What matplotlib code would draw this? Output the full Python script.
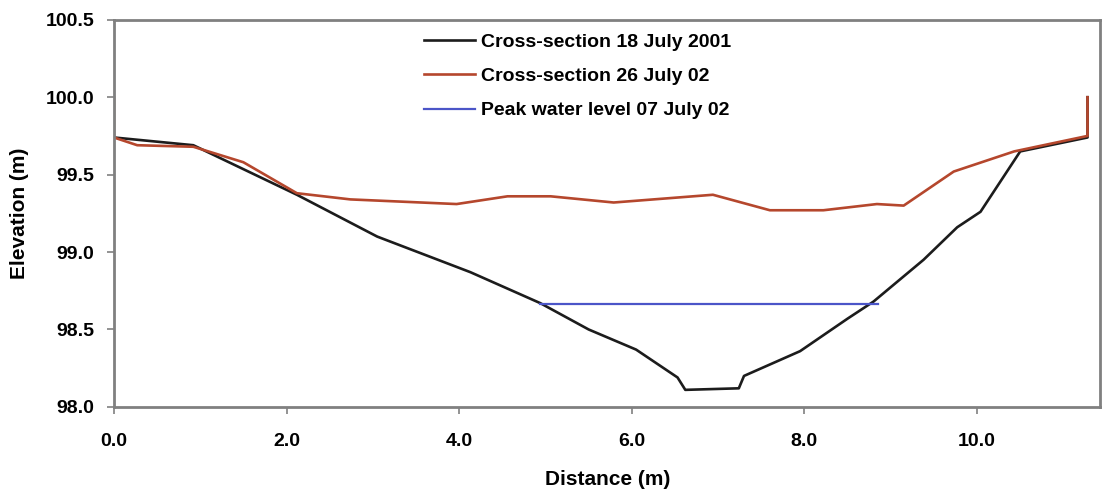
import numpy as np
import matplotlib.pyplot as plt

plt.rcParams['font.family'] = ['Liberation Sans', 'DejaVu Sans']
plt.rcParams['font.weight'] = 'bold'

# cross-section surveyed 18 July 2001
dist_2001 = [0.0, 0.92, 2.12, 3.05, 4.13, 4.94, 5.5, 6.05, 6.53, 6.62,
             7.24, 7.3, 7.95, 8.5, 8.8, 9.38, 9.77, 10.04, 10.5, 11.28, 11.28]
elev_2001 = [99.74, 99.69, 99.37, 99.10, 98.87, 98.67, 98.50, 98.37, 98.19, 98.11,
             98.12, 98.20, 98.36, 98.57, 98.68, 98.95, 99.16, 99.26, 99.65, 99.74, 100.0]

# cross-section surveyed 26 July 2002
dist_2002 = [0.0, 0.0, 0.27, 0.92, 1.5, 2.12, 2.74, 3.97, 4.56, 5.06, 5.79,
             6.94, 7.6, 8.22, 8.84, 9.15, 9.73, 10.43, 11.28, 11.28]
elev_2002 = [100.0, 99.74, 99.69, 99.68, 99.58, 99.38, 99.34, 99.31, 99.36, 99.36, 99.32,
             99.37, 99.27, 99.27, 99.31, 99.30, 99.52, 99.65, 99.75, 100.0]

# peak water level 07 July 2002
dist_peak = [4.94, 8.85]
elev_peak = [98.665, 98.665]

fig = plt.figure(figsize=(11.06, 4.95), dpi=100)
ax = fig.add_axes([0.103, 0.178, 0.892, 0.782])

ax.plot(dist_2001, elev_2001, color='#1c1c1c', linewidth=1.9,
        label='Cross-section 18 July 2001')
ax.plot(dist_2002, elev_2002, color='#b5472d', linewidth=1.9,
        label='Cross-section 26 July 02')
ax.plot(dist_peak, elev_peak, color='#4b55c8', linewidth=1.6,
        label='Peak water level 07 July 02')

ax.set_xlim(0, 11.43)
ax.set_ylim(98.0, 100.5)
ax.set_xticks(np.arange(0, 11, 2.0))
ax.set_xticklabels([f'{v:.1f}' for v in np.arange(0, 11, 2.0)])
ax.set_yticks(np.arange(98.0, 100.51, 0.5))
ax.set_yticklabels([f'{v:.1f}' for v in np.arange(98.0, 100.51, 0.5)])
ax.tick_params(labelsize=14, length=5, width=1.2, color='#808080')
ax.tick_params(axis='x', pad=14)
ax.tick_params(axis='y', pad=9)

for s in ax.spines.values():
    s.set_color('#808080')
    s.set_linewidth(2)

ax.set_xlabel('Distance (m)', fontsize=15, fontweight='bold', labelpad=14)
ax.set_ylabel('Elevation (m)', fontsize=15, fontweight='bold', labelpad=12)

ax.legend(loc='upper left', bbox_to_anchor=(0.297, 1.01), frameon=False,
          fontsize=14, handlelength=2.6, handletextpad=0.3, labelspacing=0.85)

fig.savefig('out.png', dpi=100)
